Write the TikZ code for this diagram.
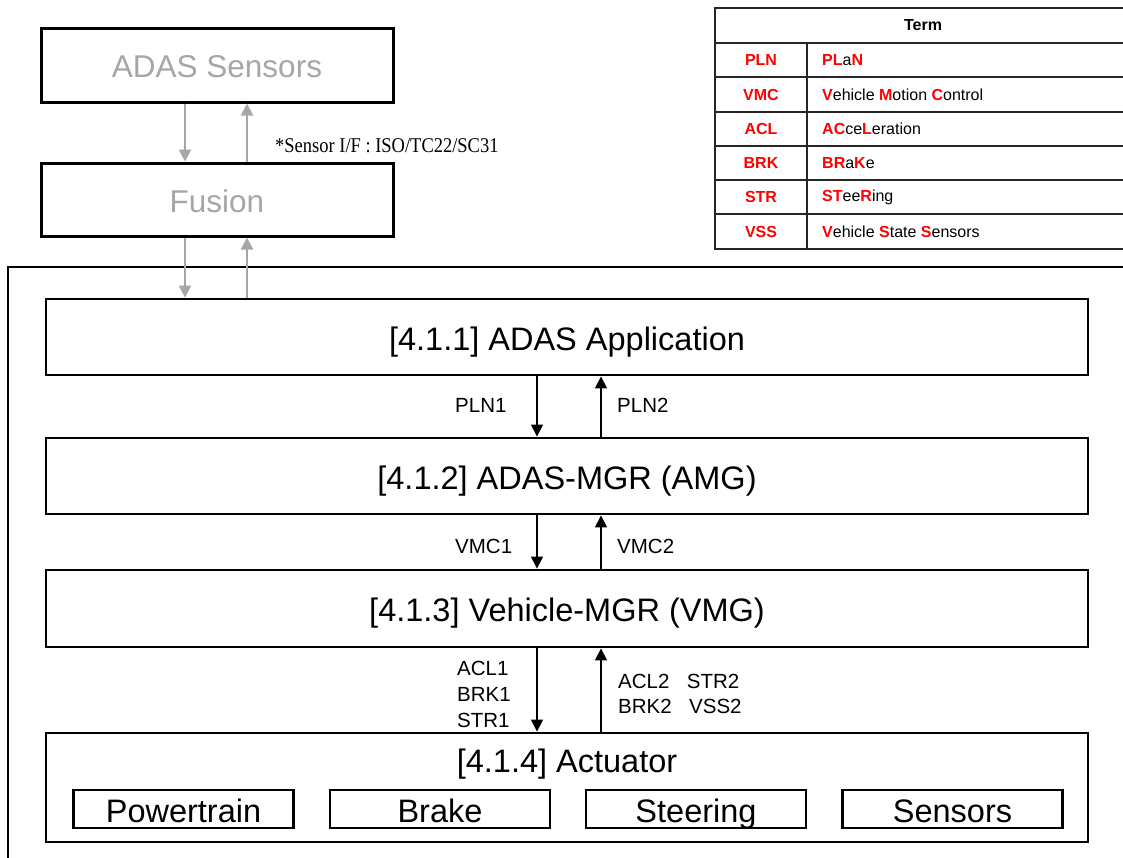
\documentclass[tikz,border=0pt]{standalone}
\usepackage{fontspec}
\setmainfont{Liberation Sans}
\newfontfamily\timesf{Liberation Serif}
\usetikzlibrary{arrows.meta}
\definecolor{sgray}{HTML}{A6A6A6}
\definecolor{tred}{HTML}{FF0000}
\newcommand{\rb}[1]{\textcolor{tred}{\textbf{#1}}}
\begin{document}
\begin{tikzpicture}[x=1pt,y=-1pt,
  box/.style={draw, line width=2.9pt, inner sep=0pt, minimum width=1042pt},
  topbox/.style={draw, line width=3pt, inner sep=0pt, minimum width=352pt},
  subbox/.style={draw, line width=2.2pt, inner sep=0pt, minimum width=220pt, minimum height=38pt},
  big/.style={inner sep=0pt, anchor=base, font=\fontsize{32.5}{36}\selectfont},
  gbig/.style={inner sep=0pt, anchor=base, text=sgray, font=\fontsize{31.5}{36}\selectfont},
  lab/.style={inner sep=0pt, anchor=base west, font=\fontsize{20.5}{24}\selectfont},
  arr/.style={line width=1.6pt, -{Triangle[length=12pt,width=12pt]}},
  garr/.style={line width=2pt, draw=sgray, -{Triangle[length=12pt,width=12pt,fill=sgray]}},
  tline/.style={line width=1.7pt, draw=black!85},
  tcell/.style={inner sep=0pt, font=\fontsize{16}{19}\selectfont}]
\useasboundingbox (0,0) rectangle (1123,857);

% top boxes
\node[topbox, minimum height=74pt] (sens) at (217,65) {};
\node[gbig] (sensL) at (217,77) {ADAS Sensors};
\node[topbox, minimum height=73pt] (fus) at (217,199.5) {};
\node[gbig] (fusL) at (217,212) {Fusion};

% outer frame
\coordinate (fbl) at (8,875);
\coordinate (ftl) at (8,267);
\coordinate (ftr) at (1145,267);
\draw[line width=2.9pt] (fbl) -- (ftl) -- (ftr);

% main boxes
\node[box, minimum height=76pt] (app) at (567,337) {};
\node[big] (appL) at (567,350) {[4.1.1] ADAS Application};
\node[box, minimum height=76pt] (amg) at (567,476) {};
\node[big] (amgL) at (567,489) {[4.1.2] ADAS-MGR (AMG)};
\node[box, minimum height=77pt] (vmg) at (567,608.5) {};
\node[big] (vmgL) at (567,621) {[4.1.3] Vehicle-MGR (VMG)};
\node[box, minimum height=109pt] (act) at (567,787.5) {};
\node[big] (actL) at (567,772) {[4.1.4] Actuator};

% sub boxes
\node[subbox] (pt) at (183.5,809) {};
\node[big] (ptL) at (183.5,822) {Powertrain};
\node[subbox] (br) at (440,809) {};
\node[big] (brL) at (440,822) {Brake};
\node[subbox] (st) at (696,809) {};
\node[big] (stL) at (696,822) {Steering};
\node[subbox] (ss) at (952.5,809) {};
\node[big] (ssL) at (952.5,822) {Sensors};

% gray arrows
\draw[garr] ([xshift=-32pt]sens.south) -- ([xshift=-32pt]sens.south |- fus.north);
\draw[garr] ([xshift=30pt]fus.north) -- ([xshift=30pt]fus.north |- sens.south);
\draw[garr] ([xshift=-32pt]fus.south) -- ([xshift=-32pt]fus.south |- app.north);
\draw[garr] ([xshift=30pt]fus.south |- app.north) -- ([xshift=30pt]fus.south);
\node[inner sep=0pt, anchor=base west, font=\timesf\fontsize{21}{24}\selectfont] (sif) at (275,152) {\scalebox{0.88}[1]{*Sensor I/F : ISO/TC22/SC31}};

% black arrows
\draw[arr] ([xshift=-30pt]app.south) -- ([xshift=-30pt]app.south |- amg.north);
\draw[arr] ([xshift=34pt]amg.north) -- ([xshift=34pt]amg.north |- app.south);
\draw[arr] ([xshift=-30pt]amg.south) -- ([xshift=-30pt]amg.south |- vmg.north);
\draw[arr] ([xshift=34pt]vmg.north) -- ([xshift=34pt]vmg.north |- amg.south);
\draw[arr] ([xshift=-30pt]vmg.south) -- ([xshift=-30pt]vmg.south |- act.north);
\draw[arr] ([xshift=34pt]act.north) -- ([xshift=34pt]act.north |- vmg.south);

% arrow labels
\node[lab] (pln1) at (455,412) {PLN1};
\node[lab] (pln2) at (617,412) {PLN2};
\node[lab] (vmc1) at (455,553) {VMC1};
\node[lab] (vmc2) at (617,553) {VMC2};
\node[lab] (acl1) at (457,675) {ACL1};
\node[lab] (brk1) at (457,701) {BRK1};
\node[lab] (str1) at (457,727) {STR1};
\node[lab] (acl2) at (618,688) {ACL2\hspace{0.85em}STR2};
\node[lab] (brk2) at (618,713) {BRK2\hspace{0.85em}VSS2};

% table
\draw[tline] (715,8) rectangle (1140,249);
\draw[tline] (715,43) -- (1140,43);
\draw[tline] (715,77) -- (1140,77);
\draw[tline] (715,112) -- (1140,112);
\draw[tline] (715,146) -- (1140,146);
\draw[tline] (715,180) -- (1140,180);
\draw[tline] (715,214) -- (1140,214);
\draw[tline] (807,43) -- (807,249);
\node[tcell, font=\fontsize{16}{19}\selectfont\bfseries] (term) at (923,25.5) {Term};
\node[tcell] (k1) at (761,60) {\rb{PLN}};
\node[tcell] (k2) at (761,94.5) {\rb{VMC}};
\node[tcell] (k3) at (761,129) {\rb{ACL}};
\node[tcell] (k4) at (761,163) {\rb{BRK}};
\node[tcell] (k5) at (761,197) {\rb{STR}};
\node[tcell] (k6) at (761,231.5) {\rb{VSS}};
\node[tcell, anchor=west] (d1) at (822,60) {\rb{PL}a\rb{N}};
\node[tcell, anchor=west] (d2) at (822,94.5) {\rb{V}ehicle \rb{M}otion \rb{C}ontrol};
\node[tcell, anchor=west] (d3) at (822,129) {\rb{AC}ce\rb{L}eration};
\node[tcell, anchor=west] (d4) at (822,163) {\rb{BR}a\rb{K}e};
\node[tcell, anchor=west] (d5) at (822,197) {\rb{ST}ee\rb{R}ing};
\node[tcell, anchor=west] (d6) at (822,231.5) {\rb{V}ehicle \rb{S}tate \rb{S}ensors};
\end{tikzpicture}
\end{document}
